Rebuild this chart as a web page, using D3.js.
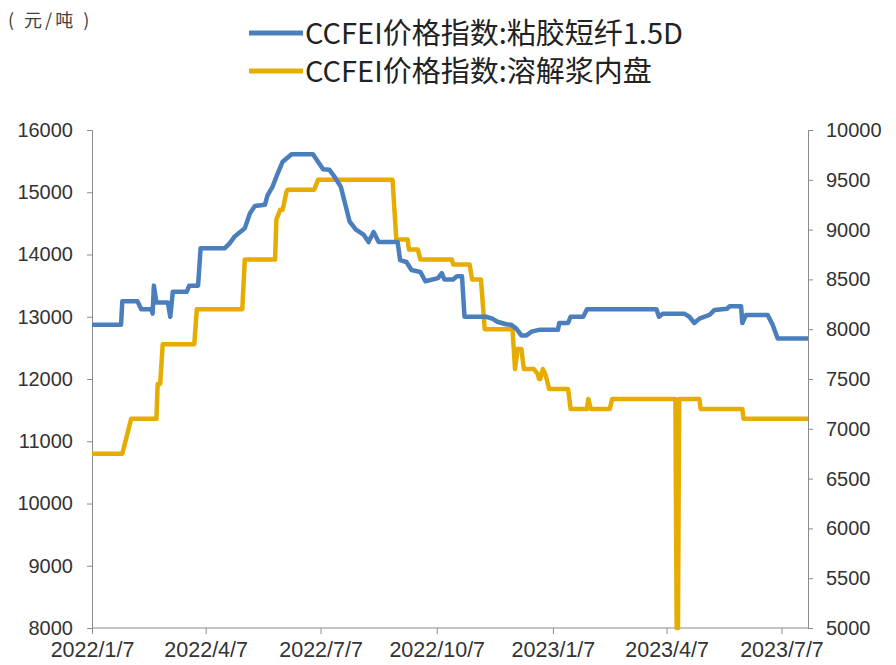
<!DOCTYPE html>
<html>
<head>
<meta charset="utf-8">
<script src="https://cdn.jsdelivr.net/npm/d3@7"></script>
<style>
  body { margin: 0; background: #fff; }
  svg { display: block; }
</style>
</head>
<body>
<script>
// series names
var seriesNames = ["CCFEI价格指数:粘胶短纤1.5D", "CCFEI价格指数:溶解浆内盘"];

// 粘胶短纤 (left axis)
var viscoseDates = [
  "2022-01-07","2022-01-30","2022-01-31","2022-02-12","2022-02-15","2022-02-23","2022-02-24","2022-02-25",
  "2022-02-27","2022-03-08","2022-03-10","2022-03-12","2022-03-23","2022-03-25","2022-04-01","2022-04-03",
  "2022-04-22","2022-04-26","2022-04-30","2022-05-08","2022-05-12","2022-05-16","2022-05-24","2022-05-26",
  "2022-05-30","2022-06-02","2022-06-07","2022-06-14","2022-07-01","2022-07-05","2022-07-09","2022-07-14",
  "2022-07-18","2022-07-23","2022-07-27","2022-07-30","2022-08-04","2022-08-10","2022-08-14","2022-08-18",
  "2022-08-22","2022-09-06","2022-09-08","2022-09-13","2022-09-17","2022-09-24","2022-09-28","2022-10-08",
  "2022-10-11","2022-10-13","2022-10-20","2022-10-23","2022-10-27","2022-10-29","2022-11-15","2022-11-20",
  "2022-11-24","2022-12-01","2022-12-05","2022-12-09","2022-12-13","2022-12-17","2022-12-21","2022-12-27",
  "2023-01-11","2023-01-12","2023-01-19","2023-01-21","2023-01-31","2023-02-03","2023-03-30","2023-04-01",
  "2023-04-04","2023-04-21","2023-04-25","2023-04-29","2023-05-03","2023-05-11","2023-05-15","2023-05-25",
  "2023-05-27","2023-06-05","2023-06-06","2023-06-09","2023-06-26","2023-06-30","2023-07-04","2023-07-28"
];
var viscoseValues = [
  12870,12870,13250,13250,13120,13120,13050,13500,
  13230,13230,13000,13400,13400,13500,13500,14100,
  14100,14180,14290,14420,14660,14780,14800,14950,
  15090,15250,15490,15610,15610,15490,15370,15360,
  15250,15090,14770,14530,14400,14320,14200,14360,
  14200,14200,13910,13880,13750,13720,13570,13620,
  13700,13600,13600,13650,13650,13000,13000,12970,
  12920,12880,12870,12810,12700,12700,12760,12790,
  12790,12900,12900,13000,13000,13120,13120,13000,
  13050,13050,13000,12900,12970,13030,13110,13130,
  13170,13170,12900,13030,13030,12870,12650,12650
];

// 溶解浆内盘 (right axis)
var pulpDates = [
  "2022-01-07","2022-01-31","2022-02-07","2022-02-27","2022-02-28","2022-03-02","2022-03-04","2022-03-29",
  "2022-03-31","2022-05-06","2022-05-08","2022-06-01","2022-06-02","2022-06-05","2022-06-07","2022-06-10",
  "2022-06-11","2022-07-02","2022-07-05","2022-09-02","2022-09-05","2022-09-14","2022-09-15","2022-09-22",
  "2022-09-24","2022-10-19","2022-10-20","2022-11-02","2022-11-04","2022-11-11","2022-11-14","2022-12-06",
  "2022-12-08","2022-12-10","2022-12-13","2022-12-15","2022-12-23","2022-12-26","2022-12-27","2022-12-28",
  "2022-12-30","2023-01-01","2023-01-04","2023-01-19","2023-01-21","2023-02-03","2023-02-04","2023-02-06",
  "2023-02-21","2023-02-23","2023-04-14","2023-04-15","2023-04-16","2023-04-17","2023-05-03","2023-05-04",
  "2023-06-06","2023-06-07","2023-07-28"
];
var pulpValues = [
  6750,6750,7100,7100,7450,7450,7850,7850,
  8200,8200,8700,8700,9100,9200,9200,9380,
  9400,9400,9500,9500,8900,8900,8800,8800,
  8700,8700,8650,8650,8500,8500,8000,8000,
  7600,7800,7800,7600,7600,7550,7500,7500,
  7600,7550,7400,7400,7200,7200,7300,7200,
  7200,7300,7300,5000,5000,7300,7300,7200,
  7200,7100,7100
];

// axis ticks
var xTickLabels = ["2022/1/7","2022/4/7","2022/7/7","2022/10/7","2023/1/7","2023/4/7","2023/7/7"];
var leftTicks = [8000,9000,10000,11000,12000,13000,14000,15000,16000];
var rightTicks = [5000,5500,6000,6500,7000,7500,8000,8500,9000,9500,10000];

var colors = ["#4a7ebd", "#e6ad00"];

drawChart();

function drawChart() {
  var width = 896, height = 665;
  var plotLeft = 92, plotRight = 808, plotTop = 130, plotBottom = 628;

  var parseDate = d3.timeParse("%Y-%m-%d");
  var parseLabel = d3.timeParse("%Y/%m/%d");

  var svg = d3.select("body").append("svg")
      .attr("width", width)
      .attr("height", height);

  var x = d3.scaleTime()
      .domain([parseDate("2022-01-07"), parseDate("2023-07-28")])
      .range([plotLeft, plotRight]);
  var yLeft = d3.scaleLinear().domain([8000, 16000]).range([plotBottom, plotTop]);
  var yRight = d3.scaleLinear().domain([5000, 10000]).range([plotBottom, plotTop]);

  var axisColor = "#8c8c8c";
  var textColor = "#333";
  var numFont = "'Liberation Sans', Arial, sans-serif";

  // left axis
  var gl = svg.append("g")
      .attr("transform", "translate(" + plotLeft + ",0)")
      .call(d3.axisLeft(yLeft).tickValues(leftTicks).tickSize(5).tickPadding(14).tickFormat(d3.format("d")));
  // right axis
  var gr = svg.append("g")
      .attr("transform", "translate(" + plotRight + ",0)")
      .call(d3.axisRight(yRight).tickValues(rightTicks).tickSize(5).tickPadding(13).tickFormat(d3.format("d")));
  // bottom axis
  var gb = svg.append("g")
      .attr("transform", "translate(0," + plotBottom + ")")
      .call(d3.axisBottom(x)
        .tickValues(xTickLabels.map(function(s) { return parseLabel(s); }))
        .tickSize(6).tickPadding(8)
        .tickFormat(function(d, i) { return xTickLabels[i]; }));

  [gl, gr, gb].forEach(function(g) {
    g.select(".domain").attr("stroke", axisColor).attr("stroke-width", 1);
    g.selectAll(".tick line").attr("stroke", axisColor);
    g.selectAll(".tick text")
      .attr("fill", textColor)
      .style("font-family", numFont)
      .style("font-size", "20px");
  });
  gb.selectAll(".tick text").style("font-size", "21.5px");
  // plain baseline, no end caps
  gb.select(".domain").attr("d", "M" + plotLeft + ",0H" + plotRight);

  // lines
  var lineLeft = d3.line()
      .x(function(d) { return x(d.date); })
      .y(function(d) { return yLeft(d.value); });
  var lineRight = d3.line()
      .x(function(d) { return x(d.date); })
      .y(function(d) { return yRight(d.value); });

  var viscose = viscoseDates.map(function(s, i) { return {date: parseDate(s), value: viscoseValues[i]}; });
  var pulp = pulpDates.map(function(s, i) { return {date: parseDate(s), value: pulpValues[i]}; });

  svg.append("path")
      .datum(pulp)
      .attr("d", lineRight)
      .attr("fill", "none")
      .attr("stroke", colors[1])
      .attr("stroke-width", 4.5)
      .attr("stroke-linejoin", "round");

  svg.append("path")
      .datum(viscose)
      .attr("d", lineLeft)
      .attr("fill", "none")
      .attr("stroke", colors[0])
      .attr("stroke-width", 4.5)
      .attr("stroke-linejoin", "round");

  // unit label
  svg.append("text")
      .attr("x", 8)
      .attr("y", 27)
      .attr("fill", "#404040")
      .style("font-family", "'Noto Sans CJK SC', sans-serif")
      .style("font-size", "18px")
      .style("letter-spacing", "3px")
      .text("( 元/吨 )");

  // legend
  var legend = svg.selectAll(".legend")
      .data(seriesNames)
      .enter().append("g")
      .attr("class", "legend")
      .attr("transform", function(d, i) { return "translate(0," + (33 + i * 38) + ")"; });

  legend.append("line")
      .attr("x1", 249).attr("x2", 303)
      .attr("y1", 0).attr("y2", 0)
      .attr("stroke", function(d, i) { return colors[i]; })
      .attr("stroke-width", 5);

  legend.append("text")
      .attr("x", 305)
      .attr("y", 11)
      .attr("fill", "#222")
      .style("font-family", "'Noto Sans CJK SC', sans-serif")
      .style("font-size", "29px")
      .text(function(d) { return d; });
}
</script>
</body>
</html>
